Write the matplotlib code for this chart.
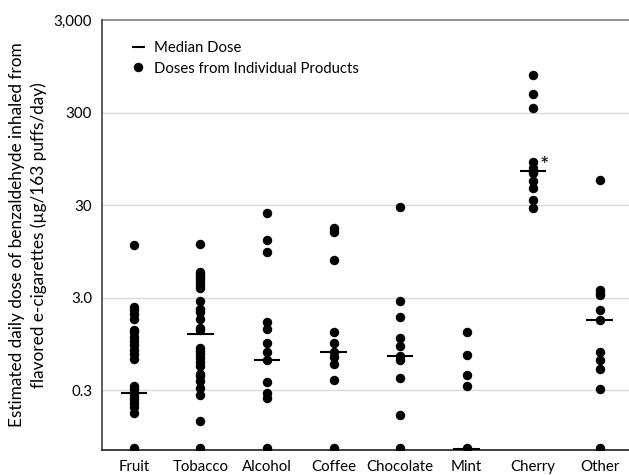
import numpy as np
import matplotlib
matplotlib.use("Agg")
import matplotlib.pyplot as plt

plt.rcParams['font.family'] = ['Lato', 'DejaVu Sans']

categories = ['Fruit', 'Tobacco', 'Alcohol', 'Coffee', 'Chocolate', 'Mint', 'Cherry', 'Other']

# doses (ug/163 puffs/day); 0.072 = sitting on the bottom of the axis
fruit = [11.0, 2.37, 2.2, 1.98, 1.75, 1.33, 1.26, 1.14, 1.02, 0.92, 0.81, 0.73, 0.65,
         0.33, 0.31, 0.28, 0.26, 0.24, 0.22, 0.195, 0.17, 0.072]
tobacco = [11.4, 5.65, 5.33, 5.04, 4.71, 4.41, 4.13, 3.84, 2.75, 2.24, 2.09, 1.75, 1.42,
           1.33, 0.86, 0.79, 0.73, 0.67, 0.60, 0.55, 0.45, 0.43, 0.38, 0.32, 0.265, 0.14, 0.072]
alcohol = [24.4, 12.7, 9.3, 1.62, 1.37, 0.96, 0.78, 0.63, 0.37, 0.28, 0.245, 0.072]
coffee = [16.8, 15.4, 7.6, 1.28, 0.98, 0.78, 0.69, 0.58, 0.39, 0.072]
chocolate = [28.8, 2.78, 1.83, 1.11, 0.90, 0.70, 0.63, 0.41, 0.16, 0.072]
mint = [1.28, 0.725, 0.44, 0.33, 0.072]
cherry = [765, 481, 337, 87.6, 76, 70, 66, 54, 45.5, 33.7, 27.6]
other = [55.5, 3.63, 3.39, 3.2, 2.2, 1.74, 0.77, 0.63, 0.51, 0.31, 0.072]

medians = [0.28, 1.20, 0.63, 0.77, 0.70, 0.069, 70.7, 1.74]

y_ticks = [0.3, 3, 30, 300, 3000]
y_tick_labels = ['0.3', '3.0', '30', '300', '3,000']


def main():
    doses = [fruit, tobacco, alcohol, coffee, chocolate, mint, cherry, other]

    fig = plt.figure(figsize=(6.29, 4.75), dpi=100)
    ax = fig.add_axes([0.162, 0.053, 0.838, 0.905])
    ax.set_yscale('log')
    ax.set_ylim(0.068, 3000)
    ax.set_xlim(-0.48, 7.44)

    # light grid lines, the top one a bit darker
    for t in y_ticks[:-1]:
        ax.axhline(t, color='#d9d9d9', lw=1, zorder=0)
    ax.axhline(3000, color='#7f7f7f', lw=1.2, zorder=0, clip_on=False)

    for i, vals in enumerate(doses):
        ax.plot(np.full(len(vals), i), vals, 'o', color='black', ms=5.8,
                zorder=3, label='Doses from Individual Products' if i == 0 else None)
    ax.hlines(medians, np.arange(8) - 0.2, np.arange(8) + 0.2, color='black', lw=1.5,
              zorder=4, label='Median Dose')

    # significance mark for cherry
    ax.text(6.1, 80, '*', fontsize=16, ha='left', va='center')

    ax.set_yticks(y_ticks)
    ax.set_yticklabels(y_tick_labels)
    ax.minorticks_off()
    ax.set_xticks(range(8))
    ax.set_xticklabels(categories)
    ax.tick_params(axis='both', length=0, labelsize=10.8, colors='black', pad=7)
    ax.tick_params(axis='y', pad=7)

    for s in ['top', 'right']:
        ax.spines[s].set_visible(False)
    ax.spines['left'].set_color('#404040')
    ax.spines['bottom'].set_color('#202020')
    ax.spines['left'].set_linewidth(1.2)
    ax.spines['bottom'].set_linewidth(1.2)

    ax.set_ylabel('Estimated daily dose of benzaldehyde inhaled from\n'
                  'flavored e-cigarettes (\u00b5g/163 puffs/day)', fontsize=12.4,
                  labelpad=5, linespacing=1.35)

    handles, labels = ax.get_legend_handles_labels()
    ax.legend(handles[::-1], labels[::-1], loc='upper left', bbox_to_anchor=(0.045, 0.965),
              frameon=False, fontsize=10.7, handlelength=0.9, handletextpad=0.6,
              labelspacing=0.45, borderaxespad=0)

    fig.savefig('out.png', dpi=100)


if __name__ == "__main__":
    main()
